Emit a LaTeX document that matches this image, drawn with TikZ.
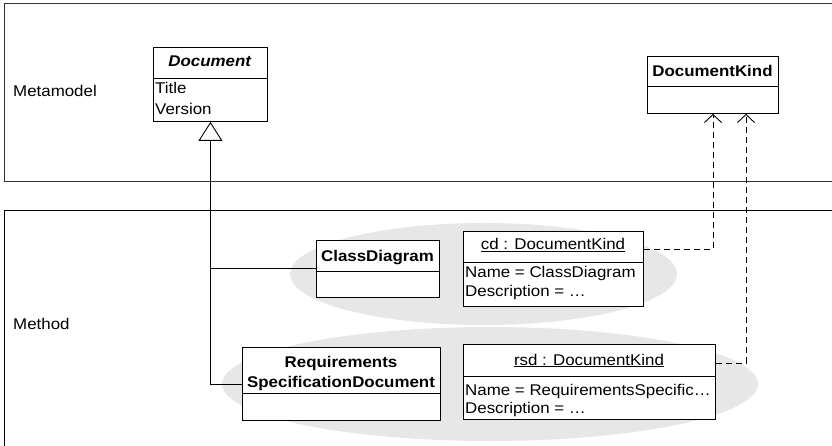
\documentclass[tikz,border=0pt]{standalone}
\usepackage{fontspec}
\setmainfont{Liberation Sans}[FakeStretch=1.09]
\usetikzlibrary{arrows.meta,shapes.geometric}
\begin{document}
\begin{tikzpicture}[x=1pt,y=-1pt,
  font=\fontsize{15.5}{18}\selectfont,
  box/.style={draw, fill=white, line width=0.9pt, inner sep=0pt, anchor=north west},
  lbl/.style={inner sep=0pt, anchor=base},
  attr/.style={inner sep=0pt, anchor=base west},
  blob/.style={ellipse, fill=gray!19, inner sep=0pt},
  divline/.style={line width=0.9pt},
  gen/.style={line width=0.9pt, -{Triangle[open,length=19pt,width=24pt,line width=0.9pt]}},
  dep/.style={line width=0.9pt, dash pattern=on 6pt off 4pt, -{Straight Barb[length=8pt,width=17pt,line width=0.9pt]}}
]
\useasboundingbox (0,0) rectangle (832,446);
% frames
\draw[line width=0.9pt, black!80] (840,181) -- (4,181) -- (4,3) -- (840,3);
\draw[line width=0.9pt] (840,210) -- (4,210) -- (4,450);
\node[attr] (meta) at (13,97) {Metamodel};
\node[attr] (meth) at (13,329) {Method};
% background blobs
\node[blob, minimum width=387pt, minimum height=102pt] (e1) at (483.5,274) {};
\node[blob, minimum width=536pt, minimum height=114pt] (e2) at (490,384) {};
% Document
\node[box, minimum width=114pt, minimum height=74pt] (doc) at (153,47) {};
\draw[divline] (doc.west |- 0,78) -- (doc.east |- 0,78);
\node[lbl] (doct) at (210,67) {\textbf{\textit{Document}}};
\node[attr] (doca) at (155,94) {Title};
\node[attr] (docb) at (155,115) {Version};
% DocumentKind
\node[box, minimum width=131pt, minimum height=57pt] (dk) at (647,56) {};
\draw[divline] (dk.west |- 0,86) -- (dk.east |- 0,86);
\node[lbl] (dkt) at (712.5,76.5) {\textbf{DocumentKind}};
% ClassDiagram
\node[box, minimum width=123pt, minimum height=57pt] (cdc) at (316,240) {};
\draw[divline] (cdc.west |- 0,271) -- (cdc.east |- 0,271);
\node[lbl] (cdct) at (377.5,261.5) {\textbf{ClassDiagram}};
% cd object
\node[box, minimum width=180pt, minimum height=75pt] (cdo) at (463,231) {};
\draw[divline] (cdo.west |- 0,262) -- (cdo.east |- 0,262);
\node[lbl] (cdot) at (553,250) {\underline{cd : DocumentKind}};
\node[attr] (cdoa) at (465,277) {Name = ClassDiagram};
\node[attr] (cdob) at (465,296) {Description = …};
% RequirementsSpecificationDocument
\node[box, minimum width=198pt, minimum height=73pt] (rsdc) at (242,347) {};
\draw[divline] (rsdc.west |- 0,393) -- (rsdc.east |- 0,393);
\node[lbl] (rsdct1) at (341,367) {\textbf{Requirements}};
\node[lbl] (rsdct2) at (341,387) {\textbf{SpecificationDocument}};
% rsd object
\node[box, minimum width=252pt, minimum height=75pt] (rsdo) at (463,344) {};
\draw[divline] (rsdo.west |- 0,376) -- (rsdo.east |- 0,376);
\node[lbl] (rsdot) at (589,365) {\underline{rsd : DocumentKind}};
\node[attr] (rsdoa) at (465,395) {Name = RequirementsSpecific…};
\node[attr] (rsdob) at (465,413) {Description = …};
% generalization
\draw[gen] (rsdc.west) -| (doc.south);
\draw[line width=0.9pt] (cdc.west) -- (cdc.west -| doc.south);
% dependencies
\coordinate (dka) at (dk.south -| 713,0);
\coordinate (dkb) at (dk.south -| 746,0);
\coordinate (cdp) at (cdo.east |- 0,249);
\coordinate (rsdp) at (rsdo.east |- 0,363);
\draw[dep] (cdp) -| (dka);
\draw[dep] (rsdp) -| (dkb);
\end{tikzpicture}
\end{document}
